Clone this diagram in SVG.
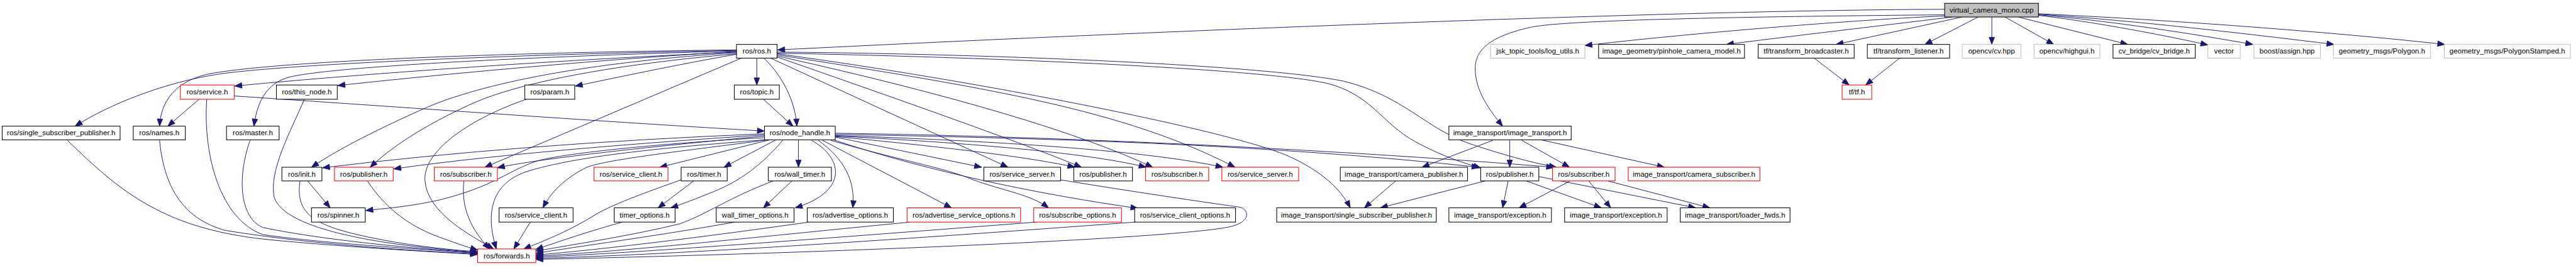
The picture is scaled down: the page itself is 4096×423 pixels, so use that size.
<svg xmlns="http://www.w3.org/2000/svg" width="4096" height="423" viewBox="0 0 4096 423">
<style>
.n rect{fill:#fff;stroke:#000;stroke-width:1.2}
.r rect{stroke:#ff0000}
.g rect{stroke:#bfbfbf}
.root rect{fill:#bfbfbf}
text{font-family:"Liberation Sans",Arial,Helvetica,sans-serif;font-size:13.33px;text-anchor:middle;fill:#000}
#edges path{fill:none;stroke:#191970;stroke-width:1.1;marker-end:url(#a)}
</style>
<defs>
<marker id="a" markerUnits="userSpaceOnUse" markerWidth="14" markerHeight="10" refX="13" refY="5" orient="auto" overflow="visible">
<path d="M0,0 L13,5 L0,10 z" fill="#191970" stroke="#191970" stroke-width="1"/>
</marker>
</defs>
<rect x="0" y="0" width="4096" height="423" fill="#fff"/>
<g transform="scale(0.872)">
<g id="edges">
<path d="M3546,17 C3100,18 2200,52 1418,91"/>
<path d="M3546,27 C3200,30 2850,36 2790,50 C2710,68 2690,95 2690,125 C2690,165 2715,200 2740,230"/>
<path d="M3546,29 C3350,38 3050,64 2890,83"/>
<path d="M3560,31 C3420,48 3250,68 3148,81"/>
<path d="M3578,31 L3348,81"/>
<path d="M3607,31 L3510,81"/>
<path d="M3632,31 L3632,81"/>
<path d="M3656,31 L3745,81"/>
<path d="M3680,31 L3880,81"/>
<path d="M3717,28 C3820,40 3950,65 4026,82"/>
<path d="M3717,27 C3850,38 4000,62 4108,81"/>
<path d="M3717,26 C3900,38 4100,62 4256,81"/>
<path d="M3717,25 C3950,36 4250,58 4458,81"/>
<path d="M3308,106 L3372,155"/>
<path d="M3464,106 L3402,155"/>
<path d="M1343,92 C900,100 520,118 400,135 C300,150 200,190 137,230"/>
<path d="M1343,91 C900,96 500,112 380,135 C320,148 293,185 291,230"/>
<path d="M1343,95 C1000,110 620,138 428,157"/>
<path d="M1343,94 C1100,108 800,136 616,156"/>
<path d="M1343,93 C1000,102 620,120 530,140 C480,152 468,195 463,230"/>
<path d="M1343,96 C1100,112 900,145 780,195 C690,235 620,270 568,305"/>
<path d="M1343,98 C1120,118 960,148 870,185 C790,220 720,262 675,305"/>
<path d="M1352,106 L884,305"/>
<path d="M1343,99 C1250,115 1150,136 1049,157"/>
<path d="M1380,106 L1380,155"/>
<path d="M1393,106 C1428,140 1450,185 1453,230"/>
<path d="M1405,106 L1838,305"/>
<path d="M1417,104 Q1860,258 1972,305"/>
<path d="M1417,102 Q1900,210 2102,305"/>
<path d="M1417,100 C1800,160 2050,200 2252,305"/>
<path d="M1417,98 C1800,150 2250,240 2350,285 C2410,312 2445,345 2462,379"/>
<path d="M1417,97 C1800,104 2300,125 2420,152 C2500,172 2520,225 2580,258 C2630,285 2670,298 2700,306"/>
<path d="M1417,95 C1800,98 2300,118 2450,148 C2560,175 2600,235 2680,262 C2740,282 2790,296 2838,305"/>
<path d="M1392,181 L1446,230"/>
<path d="M363,181 L306,230"/>
<path d="M427,175 C800,200 1100,222 1394,239"/>
<path d="M377,181 C370,280 400,400 480,428 C600,445 780,455 871,462"/>
<path d="M555,181 C530,240 490,310 500,360 C520,420 700,448 871,460"/>
<path d="M123,256 C220,350 300,420 500,438 C650,452 800,460 871,464"/>
<path d="M291,256 C300,350 340,400 410,420 C560,445 760,458 871,463"/>
<path d="M456,256 C430,330 440,400 480,415 C600,440 780,455 871,461"/>
<path d="M561,330 L602,379"/>
<path d="M547,330 C540,380 560,405 640,425 C720,445 810,455 871,459"/>
<path d="M670,330 C700,375 740,410 800,432 C830,443 850,450 871,456"/>
<path d="M846,330 C840,380 860,420 893,454"/>
<path d="M960,181 C860,215 770,275 775,330 C780,390 860,430 900,454"/>
<path d="M967,405 L937,454"/>
<path d="M1265,330 L1200,379"/>
<path d="M1242,328 C1180,350 1110,375 1080,395 C1030,425 990,440 955,454"/>
<path d="M1135,405 C1080,420 1020,440 977,455"/>
<path d="M1444,330 L1392,379"/>
<path d="M1410,330 C1330,360 1290,390 1240,408 C1150,430 1050,445 977,458"/>
<path d="M1340,405 C1200,430 1050,450 977,462"/>
<path d="M1475,405 C1300,430 1100,455 977,465"/>
<path d="M1660,405 C1400,430 1150,458 977,467"/>
<path d="M1890,405 C1500,435 1150,462 977,469"/>
<path d="M2070,405 C1600,440 1200,466 977,471"/>
<path d="M1934,328 C2100,355 2220,372 2262,378 C2280,385 2278,405 2245,413 C2150,435 1500,462 977,473"/>
<path d="M1394,244 Q950,262 588,306"/>
<path d="M1394,246 Q950,275 718,308"/>
<path d="M1394,248 Q1000,285 907,306"/>
<path d="M1394,251 C1200,262 1020,280 975,295 C920,315 900,340 800,365 C740,378 700,380 667,384"/>
<path d="M1394,255 C1200,270 1050,285 960,313 C895,335 885,390 905,454"/>
<path d="M1400,255 C1250,275 1110,290 1070,305 C1030,325 1005,350 990,379"/>
<path d="M1404,255 L1203,305"/>
<path d="M1415,255 L1320,305"/>
<path d="M1428,255 C1390,300 1350,330 1300,350 C1270,362 1245,372 1223,379"/>
<path d="M1456,255 L1456,305"/>
<path d="M1480,256 C1540,290 1545,350 1450,379"/>
<path d="M1492,256 C1540,290 1560,330 1555,379"/>
<path d="M1500,256 L1735,379"/>
<path d="M1515,256 C1650,295 1720,305 1775,328 C1830,348 1880,355 1912,379"/>
<path d="M1520,255 C1700,315 1900,355 2075,380"/>
<path d="M1523,250 L1790,305"/>
<path d="M1523,249 Q1850,280 1960,305"/>
<path d="M1523,248 Q1950,270 2090,305"/>
<path d="M1523,247 Q2050,265 2230,305"/>
<path d="M1523,245 C1900,252 2300,262 2697,305"/>
<path d="M1523,243 C1900,248 2400,270 2833,305"/>
<path d="M2722,256 L2593,305"/>
<path d="M2753,256 L2753,305"/>
<path d="M2775,256 L2862,305"/>
<path d="M2810,255 L3035,305"/>
<path d="M2545,330 L2488,379"/>
<path d="M2708,330 L2517,379"/>
<path d="M2750,330 L2740,379"/>
<path d="M2783,330 L2920,379"/>
<path d="M2806,322 L3092,379"/>
<path d="M2863,330 L2770,379"/>
<path d="M2897,330 L2937,379"/>
<path d="M2932,330 L3118,379"/>
</g>
<g id="n_root" class="n root"><rect x="3546" y="6" width="171" height="25"/><text x="3631.5" y="23">virtual_camera_mono.cpp</text></g>
<g id="n_ros_ros" class="n"><rect x="1343" y="81" width="74" height="25"/><text x="1380" y="98">ros/ros.h</text></g>
<g id="n_log_utils" class="n g"><rect x="2718" y="81" width="172" height="25"/><text x="2804" y="98">jsk_topic_tools/log_utils.h</text></g>
<g id="n_pinhole" class="n"><rect x="2915" y="81" width="266" height="25"/><text x="3048" y="98">image_geometry/pinhole_camera_model.h</text></g>
<g id="n_tf_broadcaster" class="n"><rect x="3206" y="81" width="175" height="25"/><text x="3293.5" y="98">tf/transform_broadcaster.h</text></g>
<g id="n_tf_listener" class="n"><rect x="3405" y="81" width="150" height="25"/><text x="3480" y="98">tf/transform_listener.h</text></g>
<g id="n_cv_hpp" class="n g"><rect x="3578" y="81" width="107" height="25"/><text x="3631.5" y="98">opencv/cv.hpp</text></g>
<g id="n_highgui" class="n g"><rect x="3709" y="81" width="120" height="25"/><text x="3769" y="98">opencv/highgui.h</text></g>
<g id="n_cv_bridge" class="n"><rect x="3853" y="81" width="150" height="25"/><text x="3928" y="98">cv_bridge/cv_bridge.h</text></g>
<g id="n_vector" class="n g"><rect x="4026" y="81" width="59" height="25"/><text x="4055.5" y="98">vector</text></g>
<g id="n_assign" class="n g"><rect x="4110" y="81" width="121" height="25"/><text x="4170.5" y="98">boost/assign.hpp</text></g>
<g id="n_polygon" class="n g"><rect x="4255" y="81" width="177" height="25"/><text x="4343.5" y="98">geometry_msgs/Polygon.h</text></g>
<g id="n_polygon_stamped" class="n g"><rect x="4457" y="81" width="230" height="25"/><text x="4572" y="98">geometry_msgs/PolygonStamped.h</text></g>
<g id="n_service" class="n r"><rect x="329" y="155" width="98" height="26"/><text x="378" y="172.5">ros/service.h</text></g>
<g id="n_this_node" class="n"><rect x="504" y="155" width="111" height="26"/><text x="559.5" y="172.5">ros/this_node.h</text></g>
<g id="n_param" class="n"><rect x="957" y="155" width="91" height="26"/><text x="1002.5" y="172.5">ros/param.h</text></g>
<g id="n_topic" class="n"><rect x="1339" y="155" width="82" height="26"/><text x="1380" y="172.5">ros/topic.h</text></g>
<g id="n_tf" class="n r"><rect x="3359" y="155" width="54" height="26"/><text x="3386" y="172.5">tf/tf.h</text></g>
<g id="n_single_sub_pub" class="n"><rect x="4" y="230" width="215" height="25"/><text x="111.5" y="247">ros/single_subscriber_publisher.h</text></g>
<g id="n_names" class="n"><rect x="243" y="230" width="95" height="25"/><text x="290.5" y="247">ros/names.h</text></g>
<g id="n_master" class="n"><rect x="413" y="230" width="96" height="25"/><text x="461" y="247">ros/master.h</text></g>
<g id="n_node_handle" class="n"><rect x="1394" y="230" width="129" height="25"/><text x="1458.5" y="247">ros/node_handle.h</text></g>
<g id="n_image_transport" class="n"><rect x="2642" y="230" width="223" height="25"/><text x="2753.5" y="247">image_transport/image_transport.h</text></g>
<g id="n_init" class="n"><rect x="514" y="305" width="73" height="25"/><text x="550.5" y="322">ros/init.h</text></g>
<g id="n_publisher1" class="n r"><rect x="610" y="305" width="107" height="25"/><text x="663.5" y="322">ros/publisher.h</text></g>
<g id="n_subscriber1" class="n r"><rect x="792" y="305" width="115" height="25"/><text x="849.5" y="322">ros/subscriber.h</text></g>
<g id="n_service_client1" class="n r"><rect x="1083" y="305" width="135" height="25"/><text x="1150.5" y="322">ros/service_client.h</text></g>
<g id="n_timer" class="n"><rect x="1242" y="305" width="84" height="25"/><text x="1284" y="322">ros/timer.h</text></g>
<g id="n_wall_timer" class="n"><rect x="1401" y="305" width="115" height="25"/><text x="1458.5" y="322">ros/wall_timer.h</text></g>
<g id="n_service_server1" class="n"><rect x="1794" y="305" width="140" height="25"/><text x="1864" y="322">ros/service_server.h</text></g>
<g id="n_publisher2" class="n"><rect x="1958" y="305" width="107" height="25"/><text x="2011.5" y="322">ros/publisher.h</text></g>
<g id="n_subscriber2" class="n r"><rect x="2089" y="305" width="115" height="25"/><text x="2146.5" y="322">ros/subscriber.h</text></g>
<g id="n_service_server2" class="n r"><rect x="2228" y="305" width="140" height="25"/><text x="2298" y="322">ros/service_server.h</text></g>
<g id="n_camera_publisher" class="n"><rect x="2444" y="305" width="232" height="25"/><text x="2560" y="322">image_transport/camera_publisher.h</text></g>
<g id="n_publisher3" class="n"><rect x="2700" y="305" width="106" height="25"/><text x="2753" y="322">ros/publisher.h</text></g>
<g id="n_subscriber3" class="n r"><rect x="2831" y="305" width="114" height="25"/><text x="2888" y="322">ros/subscriber.h</text></g>
<g id="n_camera_subscriber" class="n r"><rect x="2969" y="305" width="240" height="25"/><text x="3089" y="322">image_transport/camera_subscriber.h</text></g>
<g id="n_spinner" class="n"><rect x="568" y="379" width="98" height="26"/><text x="617" y="396.5">ros/spinner.h</text></g>
<g id="n_service_client2" class="n"><rect x="910" y="379" width="135" height="26"/><text x="977.5" y="396.5">ros/service_client.h</text></g>
<g id="n_timer_options" class="n"><rect x="1120" y="379" width="111" height="26"/><text x="1175.5" y="396.5">timer_options.h</text></g>
<g id="n_wall_timer_options" class="n"><rect x="1306" y="379" width="142" height="26"/><text x="1377" y="396.5">wall_timer_options.h</text></g>
<g id="n_advertise_options" class="n"><rect x="1472" y="379" width="157" height="26"/><text x="1550.5" y="396.5">ros/advertise_options.h</text></g>
<g id="n_advertise_service_options" class="n r"><rect x="1654" y="379" width="207" height="26"/><text x="1757.5" y="396.5">ros/advertise_service_options.h</text></g>
<g id="n_subscribe_options" class="n r"><rect x="1885" y="379" width="160" height="26"/><text x="1965" y="396.5">ros/subscribe_options.h</text></g>
<g id="n_service_client_options" class="n"><rect x="2069" y="379" width="184" height="26"/><text x="2161" y="396.5">ros/service_client_options.h</text></g>
<g id="n_it_single_sub_pub" class="n"><rect x="2328" y="379" width="291" height="26"/><text x="2473.5" y="396.5">image_transport/single_subscriber_publisher.h</text></g>
<g id="n_exception1" class="n"><rect x="2642" y="379" width="187" height="26"/><text x="2735.5" y="396.5">image_transport/exception.h</text></g>
<g id="n_exception2" class="n"><rect x="2853" y="379" width="187" height="26"/><text x="2946.5" y="396.5">image_transport/exception.h</text></g>
<g id="n_loader_fwds" class="n"><rect x="3064" y="379" width="200" height="26"/><text x="3164" y="396.5">image_transport/loader_fwds.h</text></g>
<g id="n_forwards" class="n r"><rect x="871" y="454" width="106" height="25"/><text x="924" y="471">ros/forwards.h</text></g>
</g>
</svg>
